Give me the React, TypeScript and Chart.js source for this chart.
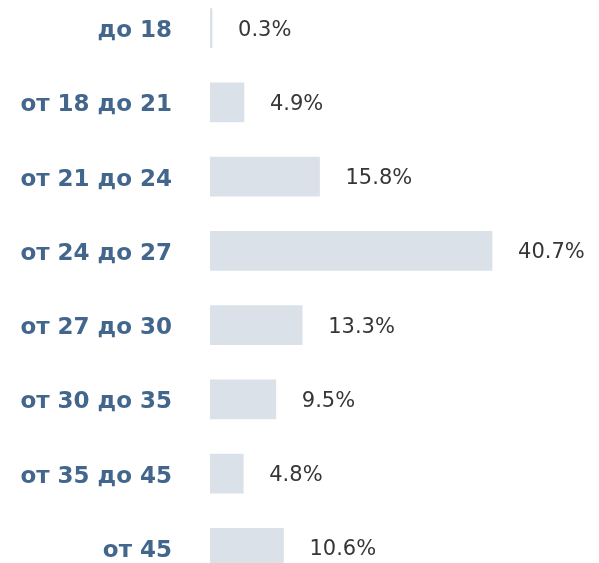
import React, { useEffect, useRef } from "react";
import { Chart, registerables } from "chart.js";

Chart.register(...registerables);

const categories = ["до 18", "от 18 до 21", "от 21 до 24", "от 24 до 27", "от 27 до 30", "от 30 до 35", "от 35 до 45", "от 45"];
const shares = [0.3, 4.9, 15.8, 40.7, 13.3, 9.5, 4.8, 10.6];
const valueLabels = ["0.3%", "4.9%", "15.8%", "40.7%", "13.3%", "9.5%", "4.8%", "10.6%"];

const labelPlugin = {
  id: "labels",
  afterDatasetsDraw(chart: any) {
    const ctx = chart.ctx;
    const meta = chart.getDatasetMeta(0);
    const yScale = chart.scales.y;
    ctx.save();
    ctx.textBaseline = "middle";
    ctx.font = "bold 23px 'DejaVu Sans'";
    ctx.fillStyle = "#43668d";
    ctx.textAlign = "right";
    categories.forEach((c, i) => {
      ctx.fillText(c, chart.chartArea.left - 38, yScale.getPixelForValue(i) + 3);
    });
    ctx.font = "21px 'DejaVu Sans'";
    ctx.fillStyle = "#363636";
    ctx.textAlign = "left";
    meta.data.forEach((bar: any, i: number) => {
      ctx.fillText(valueLabels[i], bar.x + 26, bar.y + 2);
    });
    ctx.restore();
  },
};

export default function App() {
  const ref = useRef<HTMLCanvasElement>(null);
  useEffect(() => {
    if (!ref.current) return;
    const chart = new Chart(ref.current, {
      type: "bar",
      data: {
        labels: categories,
        datasets: [
          {
            data: shares,
            backgroundColor: "#dae1e8",
            borderWidth: 0,
            barThickness: 39,
          },
        ],
      },
      options: {
        indexAxis: "y",
        animation: false,
        responsive: false,
        maintainAspectRatio: false,
        layout: { padding: { left: 210, right: 42.5, top: 0, bottom: 0 } },
        plugins: { legend: { display: false }, tooltip: { enabled: false } },
        scales: {
          x: { display: false, min: 0, max: 50 },
          y: { display: false },
        },
      },
      plugins: [labelPlugin],
    });
    return () => chart.destroy();
  }, []);
  return (
    <div style={{ position: "absolute", left: 0, top: -9, width: 599, height: 594 }}>
      <canvas ref={ref} width={599} height={594} style={{ width: 599, height: 594 }} />
    </div>
  );
}
